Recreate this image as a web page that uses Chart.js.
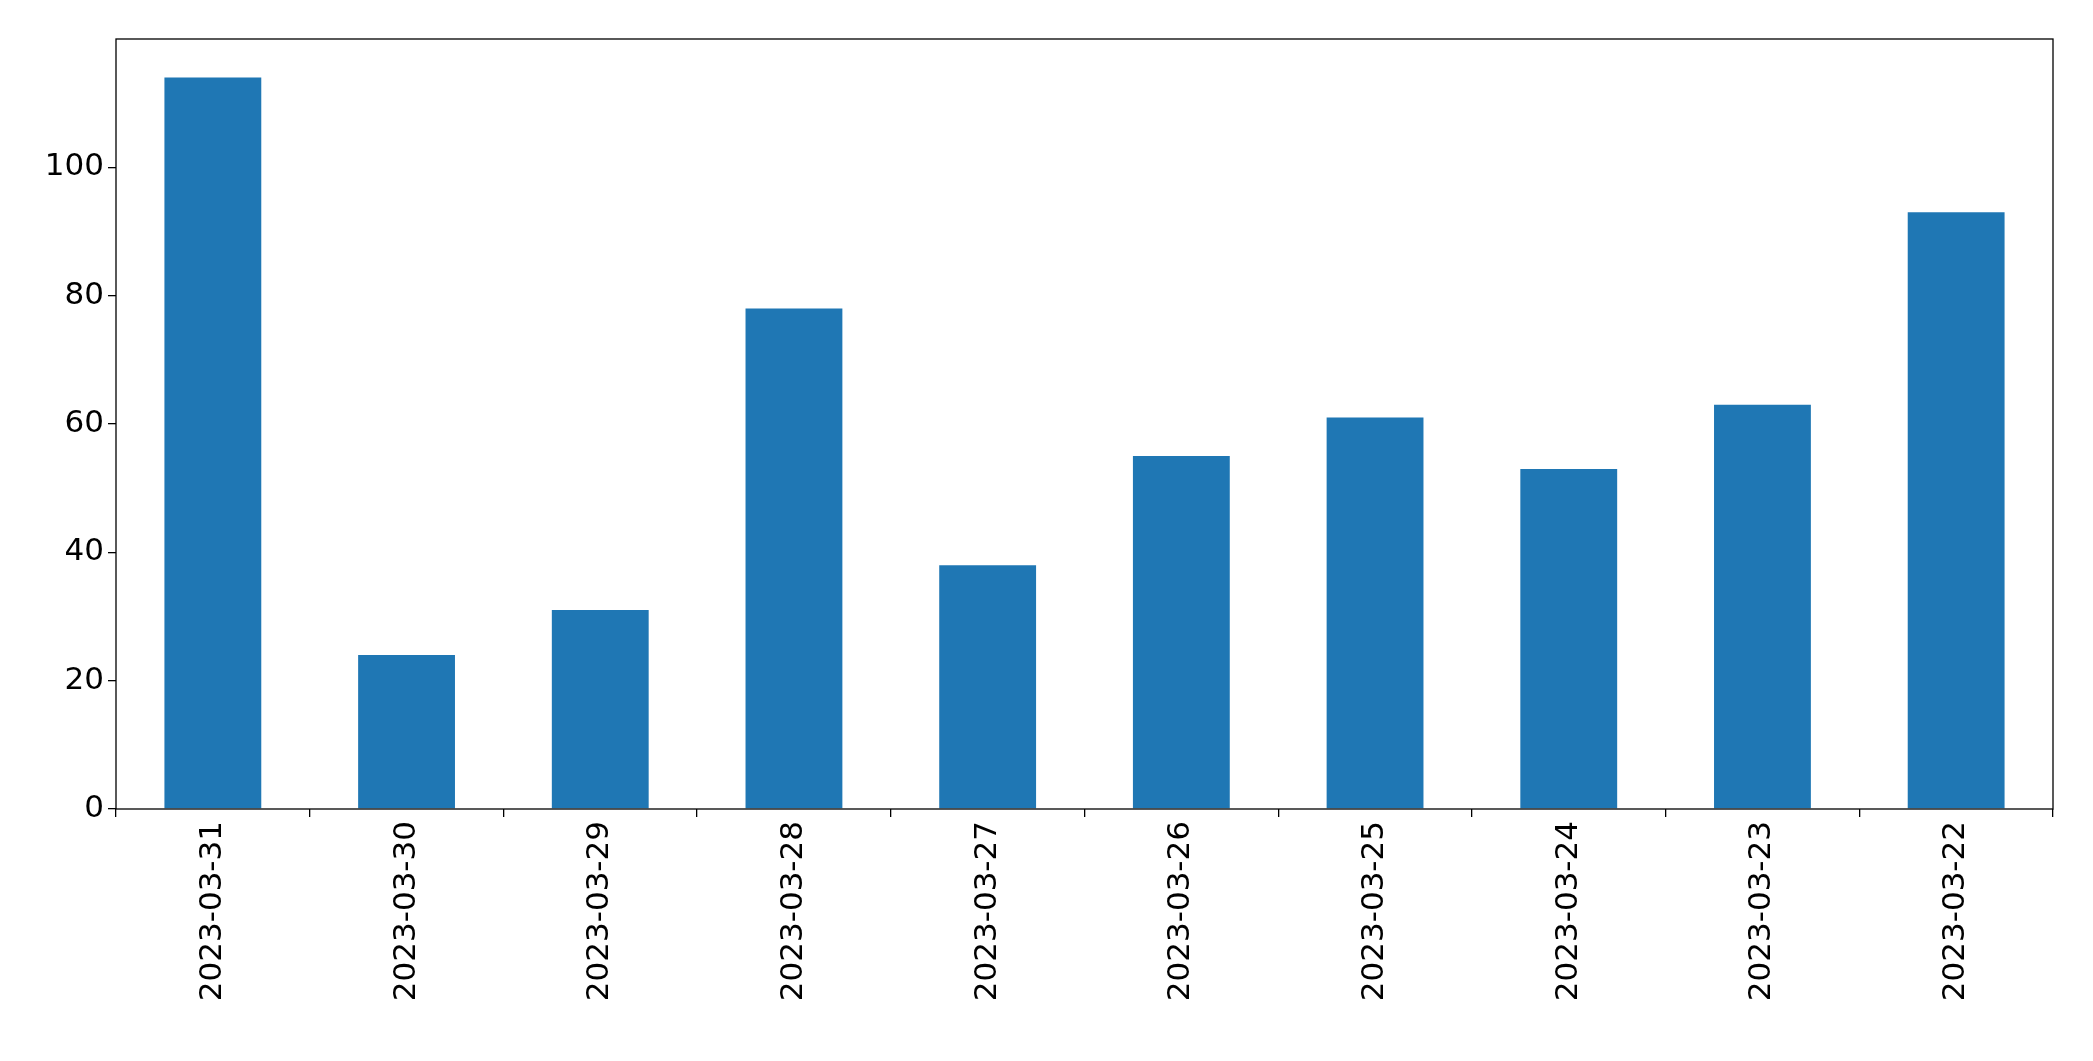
<!DOCTYPE html>
<html>
<head>
<meta charset="utf-8">
<script src="https://cdn.jsdelivr.net/npm/chart.js@4/dist/chart.umd.min.js"></script>
<style>
  html, body { margin: 0; padding: 0; background: #fff; }
  #wrap { width: 2093px; height: 1061px; }
</style>
</head>
<body>
<div id="wrap"><canvas id="c"></canvas></div>
<script>
const dates = ['2023-03-31', '2023-03-30', '2023-03-29', '2023-03-28', '2023-03-27',
               '2023-03-26', '2023-03-25', '2023-03-24', '2023-03-23', '2023-03-22'];
const counts = [114, 24, 31, 78, 38, 55, 61, 53, 63, 93];
const yTicks = [0, 20, 40, 60, 80, 100];

// black frame around the plot area, like the matplotlib axes box
const frame = {
  id: 'frame',
  afterDraw(chart) {
    const { ctx, chartArea: a } = chart;
    ctx.save();
    ctx.strokeStyle = '#000';
    ctx.lineWidth = 1.3;
    ctx.strokeRect(a.left, a.top, a.right - a.left, a.bottom - a.top);
    ctx.restore();
  }
};

const tickFont = { family: 'DejaVu Sans', size: 31 };

new Chart(document.getElementById('c'), {
  type: 'bar',
  data: {
    labels: dates,
    datasets: [{
      data: counts,
      backgroundColor: '#1f77b4',
      barPercentage: 0.5,
      categoryPercentage: 1.0
    }]
  },
  options: {
    responsive: true,
    maintainAspectRatio: false,
    animation: false,
    layout: { padding: { top: 39, right: 40, left: 0, bottom: 0 } },
    plugins: { legend: { display: false }, tooltip: { enabled: false } },
    scales: {
      x: {
        afterFit(s) { s.height = 252; },
        grid: { drawOnChartArea: false, tickLength: 8, color: '#000', lineWidth: 1.3 },
        border: { display: false },
        ticks: { color: '#000', font: tickFont, maxRotation: 90, minRotation: 90, padding: 4 }
      },
      y: {
        min: 0,
        max: 120,
        afterFit(s) { s.width = 116; },
        afterBuildTicks(s) { s.ticks = yTicks.map(v => ({ value: v })); },
        grid: { drawOnChartArea: false, tickLength: 8, color: '#000', lineWidth: 1.3 },
        border: { display: false },
        ticks: { color: '#000', font: tickFont, padding: 4 }
      }
    }
  },
  plugins: [frame]
});
</script>
</body>
</html>
